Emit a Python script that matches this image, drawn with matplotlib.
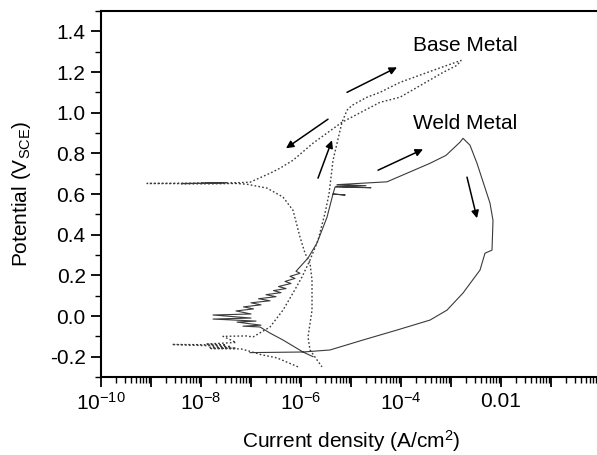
import numpy as np
import matplotlib.pyplot as plt
from matplotlib.ticker import FixedLocator, LogLocator, MultipleLocator, NullFormatter

plt.rcParams['font.family'] = ['Liberation Sans', 'DejaVu Sans']
plt.rcParams['mathtext.fontset'] = 'custom'
plt.rcParams['mathtext.rm'] = 'Liberation Sans'
plt.rcParams['mathtext.it'] = 'Liberation Sans:italic'
plt.rcParams['mathtext.bf'] = 'Liberation Sans:bold'

# base metal, log10 of current density and potential, forward then reverse
base_logi = [-6.06, -6.48, -6.8, -7.0, -7.2, -7.8, -7.3, -7.82, -7.4, -8.58, -7.5,
             -7.9, -7.3, -7.56, -7.1, -6.96, -6.62, -6.36, -6.16, -5.98, -5.82,
             -5.66, -5.52, -5.44, -5.36, -5.18, -5.08, -4.98, -4.68, -4.42, -4.02,
             -3.36, -2.80,
             -2.88, -3.16, -4.02, -4.42, -5.18, -5.76, -6.16, -6.42, -6.62, -7.02,
             -7.36, -8.0, -7.5, -8.4, -7.6, -9.08, -7.8, -7.3, -7.08, -6.68, -6.36,
             -6.16, -6.02, -5.92, -5.82, -5.78, -5.78, -5.86, -5.82, -5.68, -5.58]
base_E = [-0.25, -0.206, -0.19, -0.175, -0.162, -0.16, -0.158, -0.155, -0.15, -0.14,
          -0.142, -0.138, -0.13, -0.10, -0.098, -0.103, -0.054, 0.029, 0.113, 0.192,
          0.275, 0.373, 0.506, 0.60, 0.766, 0.953, 1.012, 1.036, 1.076, 1.10, 1.149,
          1.208, 1.257,
          1.233, 1.198, 1.076, 1.051, 0.953, 0.85, 0.766, 0.727, 0.702, 0.658,
          0.655, 0.652, 0.656, 0.651, 0.654, 0.652, 0.650, 0.652, 0.648, 0.629, 0.585,
          0.52, 0.388, 0.309, 0.26, 0.177, 0.029, -0.103, -0.167, -0.216, -0.25]

# weld metal, forward then reverse
weld_logi = [-5.76, -5.96, -6.36, -6.62, -6.82, -7.16, -6.8, -7.28, -6.9, -7.76, -7.0,
             -7.76, -7.0, -7.3, -6.95, -7.15, -6.8, -7.0, -6.62, -6.85, -6.5, -6.7,
             -6.4, -6.55, -6.3, -6.45, -6.2, -6.32, -6.12, -6.22, -6.02, -6.1,
             -5.86, -5.68, -5.48, -5.36, -5.12, -5.36, -5.32,
             -4.6, -5.3, -4.7, -5.28, -4.28, -3.42, -3.1, -2.82, -2.76,
             -2.62, -2.48, -2.22, -2.16, -2.18, -2.32, -2.42, -2.76, -3.08, -3.42,
             -4.08, -4.76, -5.42, -5.96, -7.02]
weld_E = [-0.20, -0.177, -0.118, -0.084, -0.054, -0.05, -0.045, -0.03, -0.025, -0.015,
          -0.01, 0.005, 0.01, 0.025, 0.035, 0.045, 0.055, 0.065, 0.075, 0.085, 0.095,
          0.105, 0.115, 0.125, 0.135, 0.145, 0.16, 0.17, 0.185, 0.195, 0.21, 0.22,
          0.285, 0.359, 0.486, 0.60, 0.595, 0.60, 0.634,
          0.631, 0.638, 0.641, 0.646, 0.66, 0.751, 0.79, 0.855, 0.874,
          0.84, 0.751, 0.555, 0.47, 0.324, 0.309, 0.226, 0.113, 0.029, -0.02,
          -0.069, -0.118, -0.167, -0.177, -0.18]

# arrows (tail log i, tail E, head log i, head E)
arrows = [(-5.08, 1.10, -4.08, 1.223),
          (-5.46, 0.968, -6.30, 0.825),
          (-5.66, 0.678, -5.38, 0.864),
          (-4.46, 0.717, -3.56, 0.82),
          (-2.68, 0.683, -2.48, 0.481)]

xtick_exp = [-10, -8, -6, -4, -2, 0]
xtick_labels = [r'$\mathregular{10^{-10}}$', r'$\mathregular{10^{-8}}$',
                r'$\mathregular{10^{-6}}$', r'$\mathregular{10^{-4}}$', '0.01', '1']

fig = plt.figure(figsize=(5.97, 4.55), dpi=100)
ax = fig.add_axes([0.1692, 0.1714, 0.8375, 0.8044])

ax.plot(10.0 ** np.array(base_logi), base_E, color='#3a3a3a', lw=1.0,
        linestyle=(0, (1.2, 1.6)))
ax.plot(10.0 ** np.array(weld_logi), weld_E, color='#3a3a3a', lw=0.8)

for x0, y0, x1, y1 in arrows:
    ax.annotate('', xy=(10.0 ** x1, y1), xytext=(10.0 ** x0, y0),
                arrowprops=dict(arrowstyle='-|>', color='black', lw=1.1,
                                mutation_scale=11, shrinkA=0, shrinkB=0))

ax.text(10.0 ** -3.76, 1.331, 'Base Metal', fontsize=15, va='center', ha='left')
ax.text(10.0 ** -3.76, 0.948, 'Weld Metal', fontsize=15, va='center', ha='left')

ax.set_xscale('log')
ax.set_xlim(1e-10, 1e0)
ax.set_ylim(-0.3, 1.5)

ax.xaxis.set_minor_locator(LogLocator(base=10, subs=np.arange(2, 10), numticks=20))
ax.xaxis.set_minor_formatter(NullFormatter())
ax.set_xticks([10.0 ** e for e in xtick_exp] + [10.0 ** e for e in [-9, -7, -5, -3, -1]])
ax.set_xticklabels(xtick_labels + [''] * 5)

ax.yaxis.set_major_locator(FixedLocator([-0.2, 0.0, 0.2, 0.4, 0.6, 0.8, 1.0, 1.2, 1.4]))
ax.yaxis.set_minor_locator(MultipleLocator(0.1))
ax.set_yticklabels(['-0.2', '0.0', '0.2', '0.4', '0.6', '0.8', '1.0', '1.2', '1.4'])

ax.tick_params(which='major', direction='out', length=7, width=1.3, labelsize=15, pad=4)
ax.tick_params(which='minor', direction='out', length=4, width=1.0)
for s in ax.spines.values():
    s.set_linewidth(1.5)

ax.set_xlabel('Current density (A/cm$^2$)', fontsize=15, labelpad=10)
ax.set_ylabel('Potential (V$_{\\mathregular{SCE}}$)', fontsize=15, labelpad=12)

fig.savefig('out.png', dpi=100)
